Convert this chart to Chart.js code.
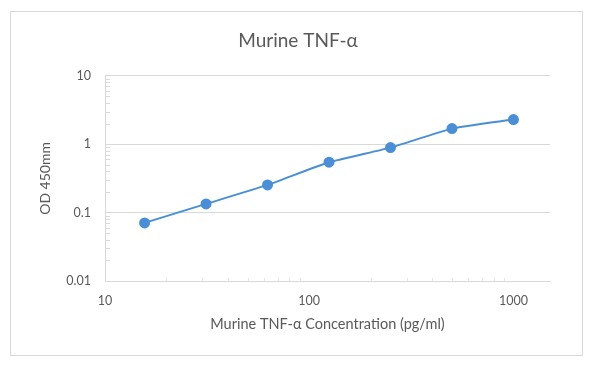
<!DOCTYPE html>
<html>
<head>
<meta charset="utf-8">
<script src="https://cdn.jsdelivr.net/npm/chart.js@4"></script>
<style>
  html, body { margin: 0; padding: 0; background: #ffffff; }
  #wrap { position: relative; width: 600px; height: 372px; }
  #frame { position: absolute; left: 10px; top: 11px; width: 573px; height: 345px; border: 1px solid #d9d9d9; box-sizing: border-box; }
  canvas { position: absolute; left: 0; top: 0; }
</style>
</head>
<body>
<div id="wrap">
  <div id="frame"></div>
  <canvas id="c" width="600" height="372"></canvas>
</div>
<script>
const concentrations = [15.625, 31.25, 62.5, 125, 250, 500, 1000];
const odValues = [0.0707, 0.134, 0.254, 0.545, 0.892, 1.69, 2.29];
const xTicks = [10, 100, 1000];
const yTicks = [0.01, 0.1, 1, 10];
const chartTitle = 'Murine TNF-α';
const xTitle = 'Murine TNF-α Concentration (pg/ml)';
const yTitle = 'OD 450mm';

const FONT = 'Lato, "Open Sans", sans-serif';
const TEXT = '#595959';
const GRID = '#d9d9d9';
const BLUE = '#4a8fd6';

const minorTicks = {
  id: 'minorTicks',
  afterDraw(chart) {
    const ctx = chart.ctx;
    const xs = chart.scales.x, ys = chart.scales.y;
    ctx.save();
    ctx.strokeStyle = GRID;
    ctx.lineWidth = 1;
    for (let d = 0.01; d < 9; d *= 10) {
      for (let m = 2; m <= 9; m++) {
        const py = Math.round(ys.getPixelForValue(d * m)) + 0.5;
        ctx.beginPath();
        ctx.moveTo(xs.left, py);
        ctx.lineTo(xs.left + 5, py);
        ctx.stroke();
      }
    }
    ctx.strokeStyle = '#e6e6e6';
    for (let d = 10; d < 10000; d *= 10) {
      for (let m = 2; m <= 9; m++) {
        const v = d * m;
        if (v > xs.max) break;
        const px = Math.round(xs.getPixelForValue(v)) + 0.5;
        ctx.beginPath();
        ctx.moveTo(px, ys.bottom);
        ctx.lineTo(px, ys.bottom - 3);
        ctx.stroke();
      }
    }
    ctx.restore();
  }
};

new Chart(document.getElementById('c'), {
  type: 'line',
  data: {
    datasets: [{
      data: concentrations.map((x, i) => ({ x: x, y: odValues[i] })),
      borderColor: BLUE,
      backgroundColor: BLUE,
      borderWidth: 2,
      pointRadius: 4.5,
      pointHoverRadius: 4.5,
      pointBackgroundColor: BLUE,
      pointBorderColor: BLUE,
      tension: 0.15,
      clip: false
    }]
  },
  options: {
    responsive: false,
    animation: false,
    devicePixelRatio: 1,
    layout: { padding: { left: 6, right: 10, top: 0, bottom: 0 } },
    plugins: {
      legend: { display: false },
      tooltip: { enabled: false },
      title: {
        display: true,
        text: chartTitle,
        color: TEXT,
        font: { family: FONT, size: 19, weight: 'normal' },
        padding: { top: 29, bottom: 24 }
      }
    },
    scales: {
      x: {
        type: 'logarithmic',
        min: 10,
        max: 1510,
        afterBuildTicks(scale) { scale.ticks = xTicks.map(v => ({ value: v })); },
        afterFit(scale) { scale.height = 372 - 281; },
        ticks: {
          color: TEXT,
          font: { family: FONT, size: 12.5 },
          maxRotation: 0,
          padding: 12,
          callback: (v) => String(v)
        },
        grid: { display: false, drawTicks: false },
        border: { display: true, color: GRID, width: 1 },
        title: {
          display: true,
          text: xTitle,
          color: TEXT,
          font: { family: FONT, size: 14.5 },
          padding: { top: 8, bottom: 39 }
        }
      },
      y: {
        type: 'logarithmic',
        min: 0.01,
        max: 10,
        afterBuildTicks(scale) { scale.ticks = yTicks.map(v => ({ value: v })); },
        afterFit(scale) { scale.width = 105 - 6; },
        ticks: {
          color: TEXT,
          font: { family: FONT, size: 12.5 },
          padding: 14,
          callback: (v) => String(v)
        },
        grid: { color: GRID, drawTicks: false },
        border: { display: true, color: GRID, width: 1 },
        title: {
          display: true,
          text: yTitle,
          color: TEXT,
          font: { family: FONT, size: 14 },
          padding: { top: 31, bottom: 4 }
        }
      },
      yRight: {
        type: 'linear',
        position: 'right',
        display: true,
        afterFit(scale) { scale.width = 600 - 10 - 550; },
        ticks: { display: false },
        grid: { display: false, drawTicks: false },
        border: { display: false }
      }
    }
  },
  plugins: [minorTicks]
});
</script>
</body>
</html>
